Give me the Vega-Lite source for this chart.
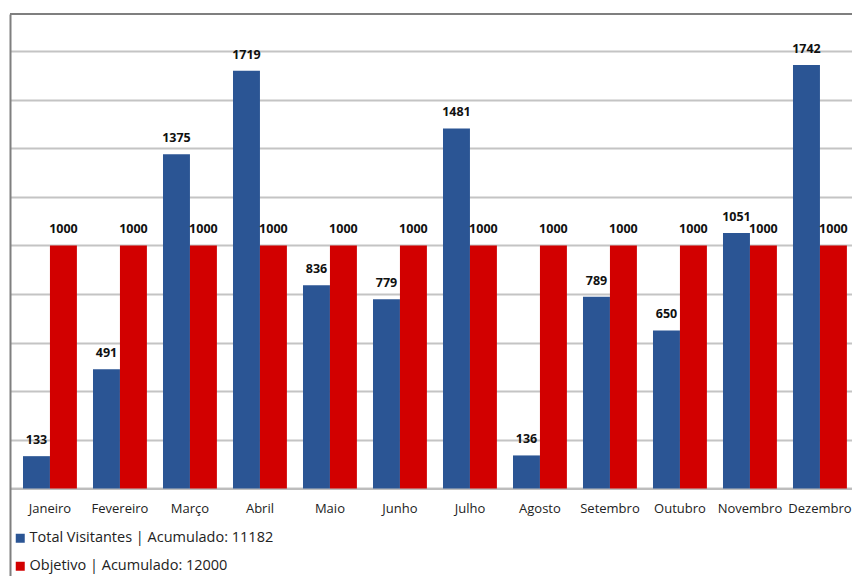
{
  "$schema": "https://vega.github.io/schema/vega-lite/v6.json",
  "width": 842,
  "height": 562,
  "autosize": {"type": "none"},
  "padding": {"left": 10, "top": 14, "right": 0, "bottom": 0},
  "background": "white",
  "config": {
    "font": "Open Sans",
    "view": {"stroke": null},
    "axis": {"labelFont": "Open Sans"},
    "legend": {"labelFont": "Open Sans"}
  },
  "data": {
    "values": [
      {"mes": "Janeiro", "serie": "Total Visitantes | Acumulado: 11182", "valor": 133},
      {"mes": "Fevereiro", "serie": "Total Visitantes | Acumulado: 11182", "valor": 491},
      {"mes": "Março", "serie": "Total Visitantes | Acumulado: 11182", "valor": 1375},
      {"mes": "Abril", "serie": "Total Visitantes | Acumulado: 11182", "valor": 1719},
      {"mes": "Maio", "serie": "Total Visitantes | Acumulado: 11182", "valor": 836},
      {"mes": "Junho", "serie": "Total Visitantes | Acumulado: 11182", "valor": 779},
      {"mes": "Julho", "serie": "Total Visitantes | Acumulado: 11182", "valor": 1481},
      {"mes": "Agosto", "serie": "Total Visitantes | Acumulado: 11182", "valor": 136},
      {"mes": "Setembro", "serie": "Total Visitantes | Acumulado: 11182", "valor": 789},
      {"mes": "Outubro", "serie": "Total Visitantes | Acumulado: 11182", "valor": 650},
      {"mes": "Novembro", "serie": "Total Visitantes | Acumulado: 11182", "valor": 1051},
      {"mes": "Dezembro", "serie": "Total Visitantes | Acumulado: 11182", "valor": 1742},
      {"mes": "Janeiro", "serie": "Objetivo | Acumulado: 12000", "valor": 1000},
      {"mes": "Fevereiro", "serie": "Objetivo | Acumulado: 12000", "valor": 1000},
      {"mes": "Março", "serie": "Objetivo | Acumulado: 12000", "valor": 1000},
      {"mes": "Abril", "serie": "Objetivo | Acumulado: 12000", "valor": 1000},
      {"mes": "Maio", "serie": "Objetivo | Acumulado: 12000", "valor": 1000},
      {"mes": "Junho", "serie": "Objetivo | Acumulado: 12000", "valor": 1000},
      {"mes": "Julho", "serie": "Objetivo | Acumulado: 12000", "valor": 1000},
      {"mes": "Agosto", "serie": "Objetivo | Acumulado: 12000", "valor": 1000},
      {"mes": "Setembro", "serie": "Objetivo | Acumulado: 12000", "valor": 1000},
      {"mes": "Outubro", "serie": "Objetivo | Acumulado: 12000", "valor": 1000},
      {"mes": "Novembro", "serie": "Objetivo | Acumulado: 12000", "valor": 1000},
      {"mes": "Dezembro", "serie": "Objetivo | Acumulado: 12000", "valor": 1000}
    ]
  },
  "layer": [
    {
      "mark": {"type": "bar"},
      "encoding": {
        "x": {
          "field": "mes",
          "type": "nominal",
          "sort": null,
          "scale": {"paddingInner": 0.23, "paddingOuter": 0.1293, "align": 0.718},
          "axis": {
            "title": null,
            "labelAngle": 0,
            "ticks": false,
            "offset": -87.5,
            "labelPadding": 14,
            "labelFontSize": 13,
            "labelColor": "#222222",
            "domainColor": "#bdbdbd",
            "domainWidth": 2
          }
        },
        "xOffset": {
          "field": "serie",
          "type": "nominal",
          "sort": ["Total Visitantes | Acumulado: 11182", "Objetivo | Acumulado: 12000"]
        },
        "y": {
          "field": "valor",
          "type": "quantitative",
          "scale": {"domain": [-360, 1952], "nice": false, "zero": false},
          "axis": {
            "title": null,
            "labels": false,
            "ticks": false,
            "domain": true,
            "domainColor": "#7f7f7f",
            "domainWidth": 2,
            "grid": true,
            "gridColor": "#c4c4c4",
            "gridWidth": 2,
            "values": [0, 200, 400, 600, 800, 1000, 1200, 1400, 1600, 1800]
          }
        },
        "color": {
          "field": "serie",
          "type": "nominal",
          "sort": ["Total Visitantes | Acumulado: 11182", "Objetivo | Acumulado: 12000"],
          "scale": {"range": ["#2b5594", "#d20000"]},
          "legend": {
            "title": null,
            "orient": "none",
            "legendX": 3,
            "legendY": 517,
            "direction": "vertical",
            "symbolType": "square",
            "symbolSize": 81,
            "symbolStrokeWidth": 0,
            "labelFontSize": 14.5,
            "labelColor": "#222222",
            "rowPadding": 13,
            "labelOffset": 2,
            "labelLimit": 400
          }
        }
      }
    },
    {
      "mark": {"type": "text", "baseline": "bottom", "dy": -9, "fontWeight": "bold", "fontSize": 12.5, "color": "#111111"},
      "encoding": {
        "x": {"field": "mes", "type": "nominal", "sort": null},
        "xOffset": {
          "field": "serie",
          "type": "nominal",
          "sort": ["Total Visitantes | Acumulado: 11182", "Objetivo | Acumulado: 12000"]
        },
        "y": {"field": "valor", "type": "quantitative"},
        "text": {"field": "valor", "type": "quantitative"}
      }
    },
    {
      "mark": {"type": "rule", "color": "#7f7f7f", "strokeWidth": 2},
      "encoding": {
        "y": {"datum": 1952}
      }
    }
  ]
}
